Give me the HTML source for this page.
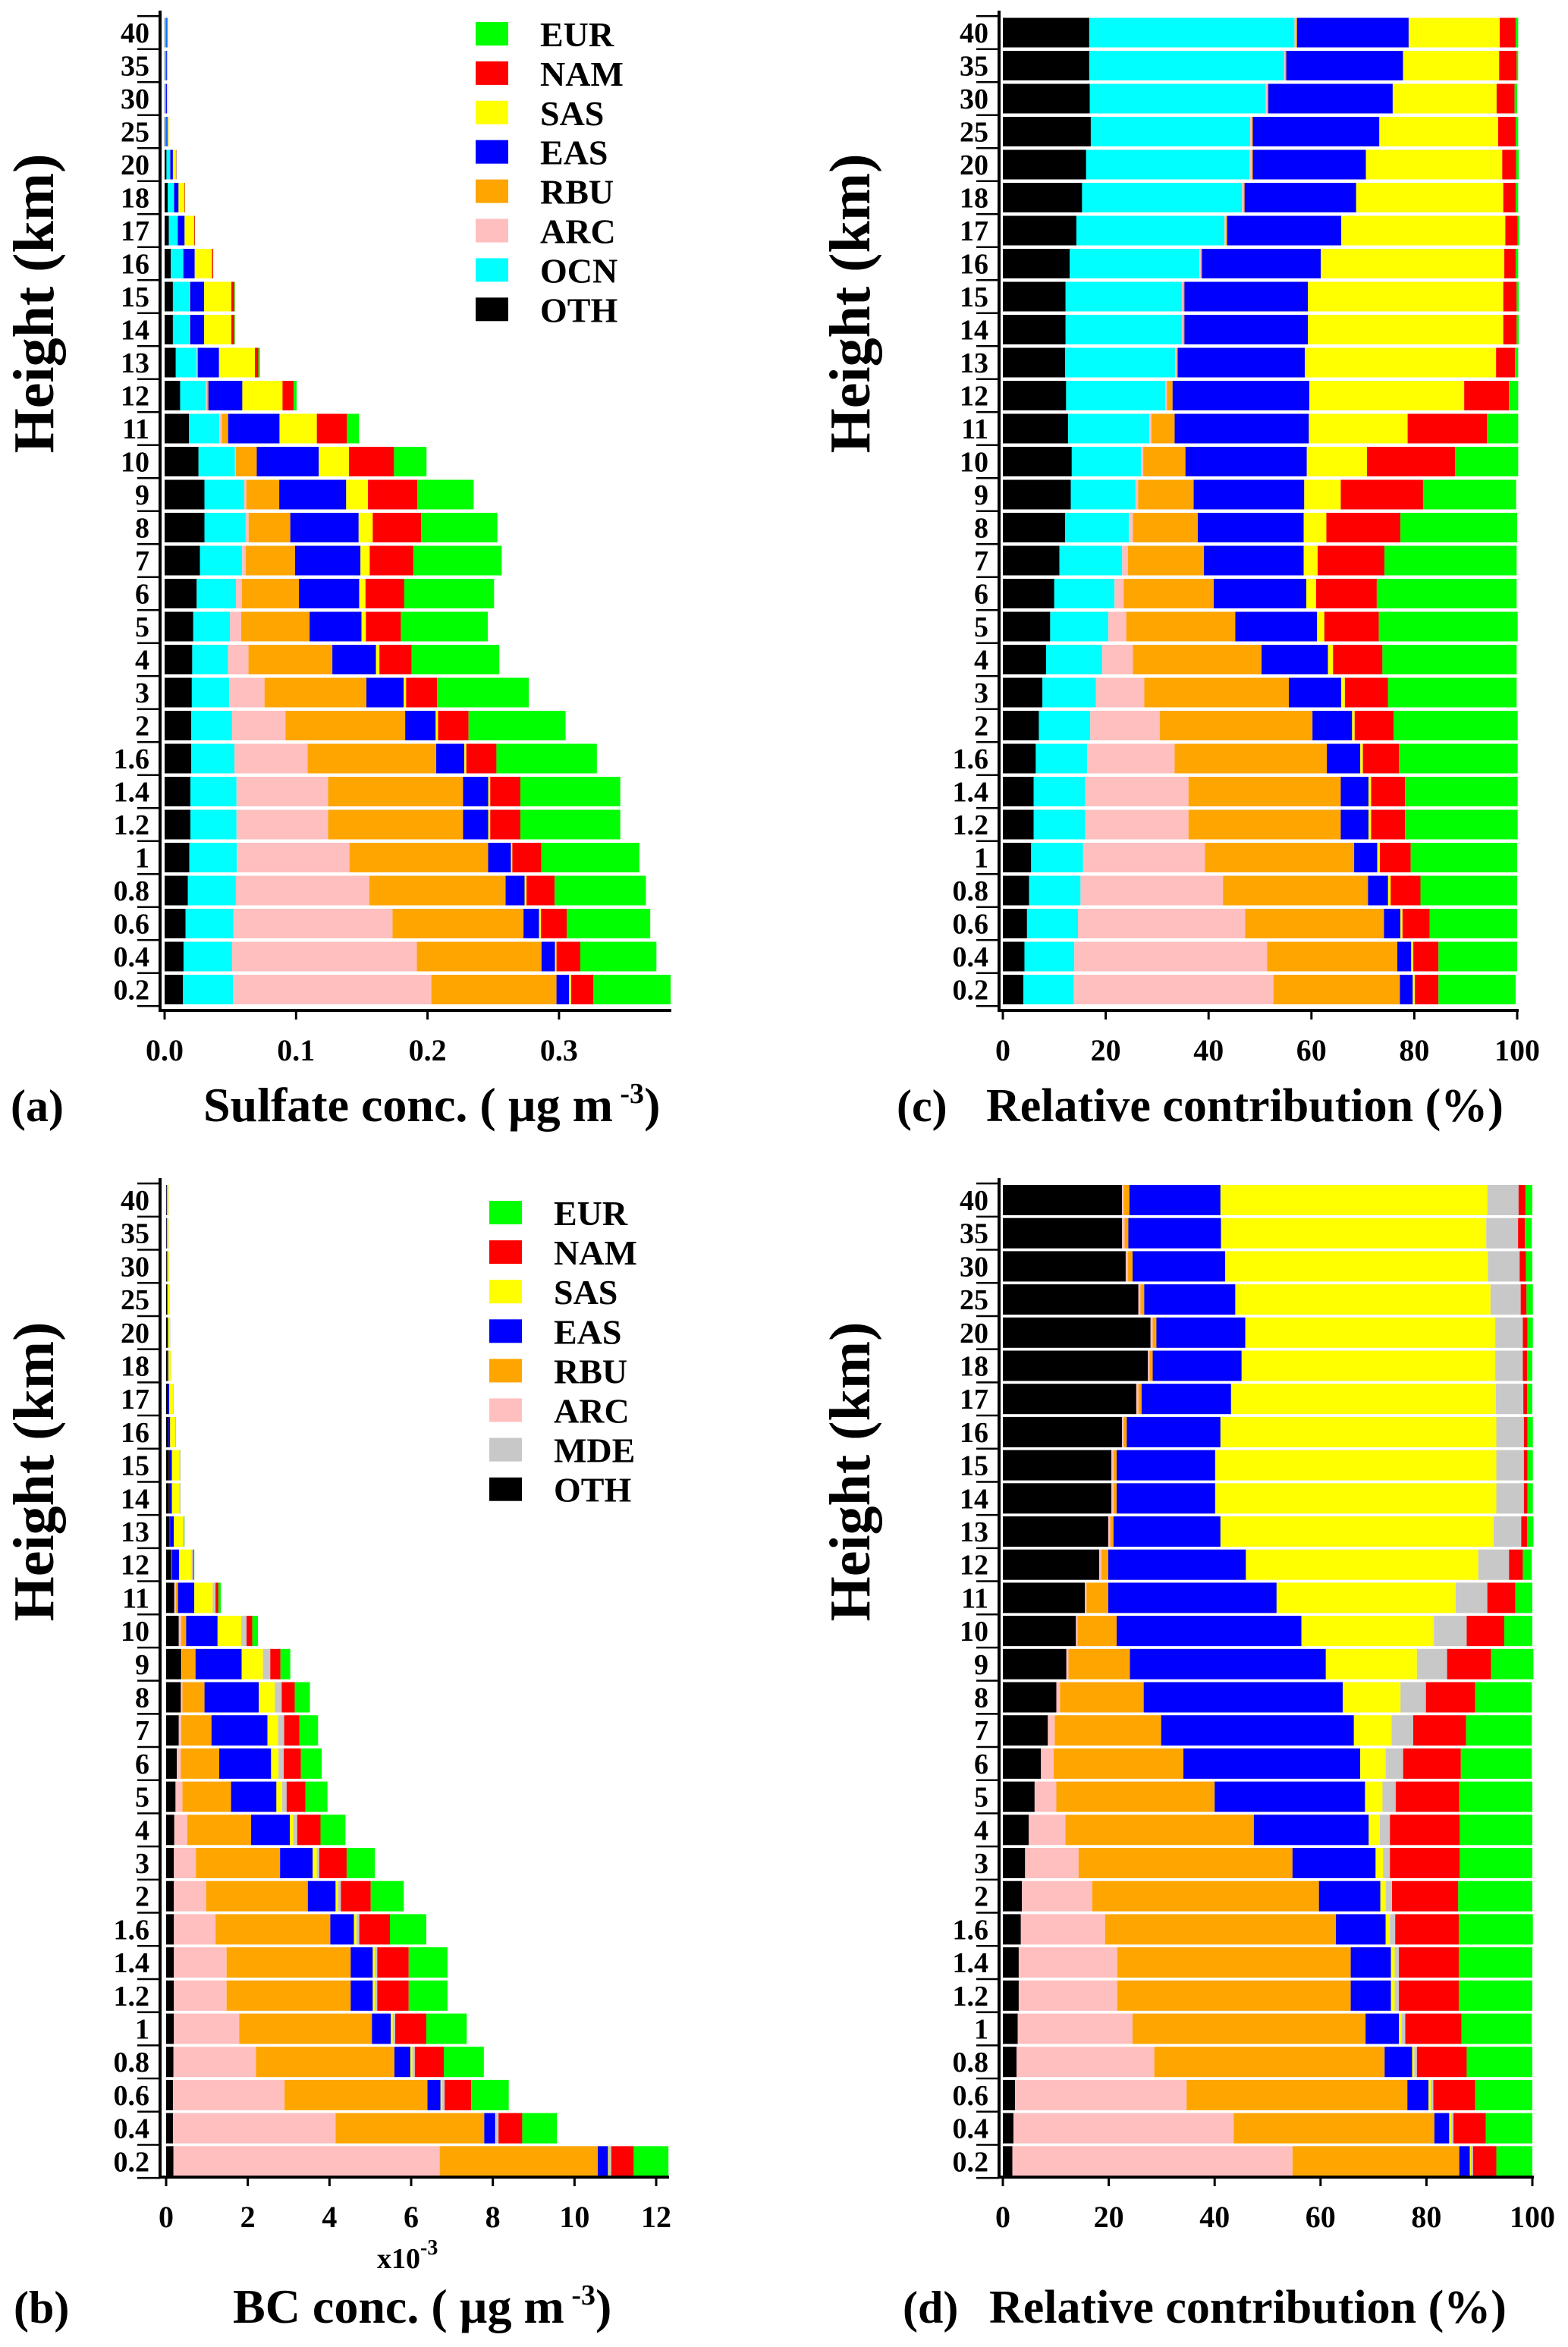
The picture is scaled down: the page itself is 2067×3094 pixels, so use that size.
<!DOCTYPE html>
<html><head><meta charset="utf-8"><style>
html,body{margin:0;padding:0;background:#fff;}
svg{display:block;}
text{font-family:"Liberation Serif",serif;font-weight:bold;fill:#000;}
</style></head><body>
<svg id="fig" width="2067" height="3094" viewBox="0 0 2067 3094" xmlns="http://www.w3.org/2000/svg"></svg>
<script>
const heights=['40','35','30','25','20','18','17','16','15','14','13','12','11','10','9','8','7','6','5','4','3','2','1.6','1.4','1.2','1','0.8','0.6','0.4','0.2'];
// (a) sulfate µg m-3
const sOTH=[.0004,.0004,.0004,.0005,.0014,.0023,.0032,.0047,.0063,.0063,.0085,.0118,.0185,.0258,.0303,.0303,.0269,.0244,.0218,.0210,.0207,.0203,.0203,.0196,.0196,.0188,.0177,.0159,.0144,.0140];
const sOCN=[.0010,.0009,.0008,.0009,.0028,.0048,.0067,.0093,.0125,.0125,.0159,.0196,.0232,.0277,.0303,.0314,.0321,.0299,.0280,.0273,.0284,.0310,.0328,.0351,.0351,.0362,.0365,.0365,.0369,.0380];
const sARC=[0,0,0,0,.0001,.0001,.0001,.0002,.0004,.0004,.0005,.0008,.0018,.0007,.0015,.0022,.0026,.0044,.0085,.0155,.0269,.0406,.0557,.0697,.0697,.0856,.1015,.1210,.1406,.1509];
const sRBU=[0,0,0,0,0,0,0,0,.0002,.0002,.0003,.0011,.0048,.0159,.0251,.0317,.0376,.0435,.0520,.0638,.0775,.0911,.0978,.1026,.1026,.1055,.1037,.0996,.0948,.0952];
const sEAS=[.0006,.0005,.0006,.0008,.0020,.0034,.0052,.0087,.0107,.0107,.0162,.0258,.0391,.0472,.0509,.0520,.0498,.0458,.0395,.0332,.0284,.0232,.0214,.0192,.0192,.0173,.0144,.0118,.0103,.0096];
const sSAS=[.0005,.0004,.0005,.0007,.0023,.0045,.0073,.0132,.0207,.0207,.0273,.0306,.0284,.0229,.0166,.0107,.0070,.0048,.0033,.0026,.0018,.0018,.0015,.0015,.0015,.0011,.0015,.0015,.0011,.0015];
const sNAM=[.0001,.0001,.0001,.0001,.0003,.0004,.0005,.0008,.0022,.0022,.0026,.0085,.0229,.0343,.0376,.0369,.0332,.0295,.0266,.0244,.0236,.0232,.0229,.0229,.0229,.0221,.0214,.0196,.0181,.0170];
const sEUR=[0,0,0,0,.0001,.0001,.0001,.0001,.0005,.0005,.0012,.0022,.0092,.0247,.0428,.0579,.0672,.0683,.0661,.0668,.0697,.0738,.0764,.0760,.0760,.0745,.0694,.0635,.0579,.0587];
// (c) sulfate %
const cOTH=[16.8,16.8,16.9,17.1,16.2,15.4,14.3,13.0,12.2,12.2,12.1,12.3,12.7,13.4,13.2,12.1,11.0,10.0,9.2,8.4,7.7,7.0,6.4,6.0,6.0,5.5,5.1,4.7,4.2,4.0];
const cOCN=[39.9,37.9,34.2,31.0,31.8,31.1,28.8,25.2,22.6,22.6,21.4,19.3,15.8,13.5,12.6,12.4,12.2,11.7,11.3,10.9,10.4,10.0,10.0,10.0,10.0,10.1,10.0,9.9,9.7,9.8];
const cARC=[.3,.2,.3,.3,.4,.3,.3,.3,.3,.3,.3,.3,.4,.4,.5,.8,1.1,1.8,3.5,6.0,9.4,13.5,17.0,20.1,20.1,23.7,27.7,32.5,37.5,38.8];
const cRBU=[.2,.2,.2,.2,.2,.2,.2,.2,.2,.2,.2,1.1,4.5,8.2,10.8,12.6,14.8,17.5,21.2,25.0,28.1,29.7,29.6,29.6,29.6,29.0,28.2,27.0,25.3,24.6];
const cEAS=[21.7,22.7,24.2,24.6,22.0,21.7,22.2,23.1,24.0,24.0,24.7,26.6,26.1,23.6,21.5,20.6,19.4,18.0,15.9,12.9,10.2,7.7,6.5,5.4,5.4,4.5,3.9,3.2,2.7,2.5];
const cSAS=[17.7,18.7,20.2,23.1,26.5,28.6,31.9,35.7,38.0,38.0,37.2,30.1,19.2,11.7,7.1,4.4,2.7,1.9,1.4,1.0,.7,.5,.5,.5,.5,.5,.5,.4,.4,.4];
const cNAM=[3.1,3.4,3.5,3.4,2.7,2.4,2.4,2.2,2.6,2.6,3.7,8.7,15.4,17.1,16.0,14.4,13.0,11.8,10.6,9.6,8.4,7.6,7.0,6.6,6.6,6.0,5.8,5.3,4.9,4.6];
const cEUR=[.5,.3,.5,.5,.5,.5,.3,.5,.4,.4,.6,1.8,6.1,12.3,18.1,22.7,25.7,27.2,27.0,26.1,25.0,24.1,23.1,21.9,21.9,20.7,18.8,17.0,15.3,15.0];
// (b) BC, units of 1e-3 µg m-3
const bOTH=[.014,.014,.016,.020,.028,.033,.045,.054,.072,.072,.090,.126,.20,.31,.37,.36,.31,.26,.23,.20,.19,.19,.19,.19,.19,.19,.18,.17,.17,.18];
const bARC=[0,0,0,0,0,0,.001,.001,.001,.001,.002,.003,.04,.06,.02,.04,.06,.10,.17,.32,.54,.79,1.02,1.29,1.29,1.60,2.02,2.73,3.98,6.52];
const bRBU=[.001,.001,.001,.001,.001,.001,.001,.001,.002,.002,.003,.009,.05,.12,.33,.54,.74,.94,1.19,1.56,2.06,2.49,2.81,3.04,3.04,3.25,3.39,3.50,3.64,3.87];
const bEAS=[.010,.010,.012,.014,.017,.020,.030,.042,.065,.065,.091,.179,.40,.77,1.13,1.33,1.37,1.27,1.11,.95,.80,.68,.58,.54,.54,.46,.39,.32,.27,.25];
const bSAS=[.030,.030,.035,.039,.047,.057,.090,.125,.186,.186,.232,.303,.45,.58,.52,.39,.26,.18,.14,.08,.10,.06,.06,.05,.05,.05,.05,.04,.02,.02];
const bMDE=[.004,.004,.004,.005,.005,.006,.009,.012,.018,.018,.023,.040,.07,.13,.18,.17,.15,.13,.11,.10,.06,.07,.07,.06,.06,.06,.06,.06,.06,.06];
const bNAM=[.001,.001,.001,.001,.001,.001,.001,.002,.003,.003,.005,.018,.07,.14,.25,.32,.37,.42,.46,.57,.67,.73,.75,.77,.77,.76,.71,.65,.58,.55];
const bEUR=[.001,.001,.001,.001,.001,.001,.002,.002,.003,.003,.005,.012,.06,.14,.24,.37,.46,.51,.54,.61,.69,.81,.89,.95,.95,.99,.98,.92,.85,.85];
// (d) BC %
const dOTH=[22.5,22.5,23.2,25.6,27.9,27.4,25.2,22.5,20.5,20.5,19.9,18.2,15.5,13.8,12.0,10.1,8.5,7.2,6.0,4.9,4.2,3.6,3.4,3.0,3.0,2.8,2.6,2.3,2.0,1.8];
const dARC=[.3,.5,.4,.4,.4,.3,.4,.3,.4,.4,.4,.4,.3,.3,.4,.7,1.3,2.4,4.1,6.9,10.1,13.3,15.9,18.6,18.6,21.7,26.0,32.4,41.6,52.9];
const dRBU=[1.1,.7,.9,.7,.7,.6,.6,.6,.6,.6,.6,1.3,4.1,7.4,11.6,15.8,20.1,24.5,29.9,35.6,40.4,42.8,43.6,44.1,44.1,44.0,43.5,41.7,37.9,31.5];
const dEAS=[17.2,17.5,17.5,17.2,16.8,16.8,16.9,17.7,18.6,18.6,20.2,26.0,31.8,34.9,37.0,37.6,36.4,33.4,28.4,21.7,15.7,11.6,9.4,7.6,7.6,6.3,5.2,4.0,2.8,2.0];
const dSAS=[50.4,50.1,49.6,48.2,47.2,47.9,50.0,52.1,53.1,53.1,51.6,43.9,33.8,25.0,17.2,10.9,7.1,4.8,3.3,2.1,1.4,1.0,.8,.7,.7,.5,.4,.4,.4,.2];
const dMDE=[5.9,6.0,6.0,5.7,5.2,5.2,5.2,5.2,5.2,5.2,5.2,5.8,6.0,6.2,5.7,4.8,4.1,3.3,2.5,1.9,1.3,1.2,1.0,.8,.8,.7,.5,.5,.4,.4];
const dNAM=[1.3,1.3,1.2,1.1,.9,.8,.7,.7,.7,.7,1.1,2.6,5.3,7.1,8.3,9.3,10.0,10.9,12.0,13.2,13.2,12.5,12.0,11.3,11.3,10.6,9.4,7.9,6.1,4.4];
const dEUR=[1.3,1.3,1.2,1.2,1.0,1.0,1.0,1.0,1.0,1.0,1.2,1.7,3.2,5.3,8.0,10.7,12.4,13.4,13.8,13.7,13.7,14.0,14.0,13.9,13.9,13.3,12.4,10.8,8.8,6.8];
const ticksA=['0.0','0.1','0.2','0.3'];
const ticksB=['0','2','4','6','8','10','12'];
const ticksP=['0','20','40','60','80','100'];

const NS='http://www.w3.org/2000/svg';
const svg=document.getElementById('fig');
const COL={OTH:'#000000',OCN:'#00ffff',ARC:'#ffbfbf',RBU:'#ffa500',EAS:'#0000ff',SAS:'#ffff00',NAM:'#ff0000',EUR:'#00ff00',MDE:'#c8c8c8'};
function el(tag,attrs,parent){const e=document.createElementNS(NS,tag);for(const k in attrs)e.setAttribute(k,attrs[k]);(parent||svg).appendChild(e);return e;}
function txt(s,attrs,parent){const e=el('text',attrs,parent);e.textContent=s;return e;}

function panel(p){
  const g=el('g',{});
  
  
  const xs=v=>p.x0+(v-p.vmin)/(p.vmax-p.vmin)*(p.x1-p.x0);
  const ys=i=>p.y0+i*p.dy;
  for(let i=0;i<heights.length;i++){
    let acc=0;
    p.series.forEach(s=>{
      const v=s.data[i];
      const r=el('rect',{x:xs(acc),y:ys(i)-p.bh/2,width:Math.max(0,xs(acc+v)-xs(acc)),height:p.bh,fill:COL[s.key]},g);
      
      
      acc+=v;
    });
    const t=txt(heights[i],{x:p.ax-14,y:ys(i)+13,'text-anchor':'end','font-size':38},g);
    
    
    el('line',{x1:p.ax-30,x2:p.ax,y1:ys(i)-p.dy/2,y2:ys(i)-p.dy/2,stroke:'#000','stroke-width':2.5},g);
  }
  el('line',{x1:p.ax-30,x2:p.ax,y1:ys(heights.length-1)+p.dy/2,y2:ys(heights.length-1)+p.dy/2,stroke:'#000','stroke-width':2.5},g);
  const yAx=el('line',{x1:p.ax,x2:p.ax,y1:p.ytop,y2:p.ybot,stroke:'#000','stroke-width':4},g);
  
  
  const xAx=el('line',{x1:p.ax-2,x2:p.xend,y1:p.ybot,y2:p.ybot,stroke:'#000','stroke-width':4},g);
  
  
  p.ticks.forEach((lab,k)=>{
    const v=p.vmin+k*p.step;
    el('line',{x1:xs(v),x2:xs(v),y1:p.ybot,y2:p.ybot+12,stroke:'#000','stroke-width':3},g);
    const t=txt(lab,{x:xs(v),y:p.ybot+66,'text-anchor':'middle','font-size':40},g);
    
    
  });
  const yt=txt('Height (km)',{x:0,y:0,'text-anchor':'middle','font-size':76,transform:`translate(${p.ylx},${p.yly}) rotate(-90)`},g);
  
  
  if(p.legend){
    p.legend.forEach((k,j)=>{
      const ly=p.legY+j*p.legDy;
      const r=el('rect',{x:p.legX,y:ly-16,width:43,height:31,fill:COL[k]},g);
      
      
      const t=txt(k,{x:p.legX+85,y:ly+16,'font-size':46},g);
      
      
    });
  }
}

const sulfSeries=[{key:'OTH',data:sOTH},{key:'OCN',data:sOCN},{key:'ARC',data:sARC},{key:'RBU',data:sRBU},{key:'EAS',data:sEAS},{key:'SAS',data:sSAS},{key:'NAM',data:sNAM},{key:'EUR',data:sEUR}];
const sulfPct=[{key:'OTH',data:cOTH},{key:'OCN',data:cOCN},{key:'ARC',data:cARC},{key:'RBU',data:cRBU},{key:'EAS',data:cEAS},{key:'SAS',data:cSAS},{key:'NAM',data:cNAM},{key:'EUR',data:cEUR}];
const bcSeries=[{key:'OTH',data:bOTH},{key:'ARC',data:bARC},{key:'RBU',data:bRBU},{key:'EAS',data:bEAS},{key:'SAS',data:bSAS},{key:'MDE',data:bMDE},{key:'NAM',data:bNAM},{key:'EUR',data:bEUR}];
const bcPct=[{key:'OTH',data:dOTH},{key:'ARC',data:dARC},{key:'RBU',data:dRBU},{key:'EAS',data:dEAS},{key:'SAS',data:dSAS},{key:'MDE',data:dMDE},{key:'NAM',data:dNAM},{key:'EUR',data:dEUR}];

panel({name:'panel-a-sulfate',series:sulfSeries,x0:217,x1:390.3,vmin:0,vmax:0.1,step:0.1,ticks:ticksA,ax:211,ytop:14,ybot:1332,xend:885,y0:43,dy:43.5,bh:39,ylx:70,yly:400,
  legend:['EUR','NAM','SAS','EAS','RBU','ARC','OCN','OTH'],legX:627,legY:45,legDy:51.9});
panel({name:'panel-c-sulfate-share',series:sulfPct,x0:1322,x1:2000,vmin:0,vmax:100,step:20,ticks:ticksP,ax:1317,ytop:14,ybot:1332,xend:2002,y0:43,dy:43.5,bh:39,ylx:1146,yly:400});
panel({name:'panel-b-bc',series:bcSeries,x0:219,x1:865,vmin:0,vmax:12,step:2,ticks:ticksB,ax:211,ytop:1553,ybot:2870,xend:882,y0:1582,dy:43.7,bh:40,ylx:70,yly:1940,
  legend:['EUR','NAM','SAS','EAS','RBU','ARC','MDE','OTH'],legX:645,legY:1599,legDy:52.1});
panel({name:'panel-d-bc-share',series:bcPct,x0:1322,x1:2020,vmin:0,vmax:100,step:20,ticks:ticksP,ax:1317,ytop:1553,ybot:2870,xend:2022,y0:1582,dy:43.7,bh:40,ylx:1146,yly:1940});

function title(parts,x,y,fs,name){
  const t=el('text',{x:x,y:y,'font-size':fs});
  
  
  parts.forEach(p=>{const s=el('tspan',p.sup?{dy:-24,'font-size':Math.round(fs*0.6)}:(p.down?{dy:24}:{}),t);s.textContent=p.t;});
  return t;
}
title([{t:'Sulfate conc. ( µg m'},{t:' -3',sup:1},{t:')',down:1}],268,1478,64,'x-axis-title-a');
title([{t:'BC conc. ( µg m'},{t:' -3',sup:1},{t:')',down:1}],307,3062,64,'x-axis-title-b');
title([{t:'Relative contribution (%)'}],1300,1478,62,'x-axis-title-c');
title([{t:'Relative contribution (%)'}],1304,3062,62,'x-axis-title-d');
title([{t:'(a)'}],14,1478,60,'panel-label-a');
title([{t:'(b)'}],18,3062,60,'panel-label-b');
title([{t:'(c)'}],1182,1478,60,'panel-label-c');
title([{t:'(d)'}],1190,3062,60,'panel-label-d');
const xm=el('text',{x:497,y:2990,'font-size':38});


const xm1=el('tspan',{},xm);xm1.textContent='x10';
const xm2=el('tspan',{dy:-18,'font-size':28},xm);xm2.textContent='-3';
</script>
</body></html>
